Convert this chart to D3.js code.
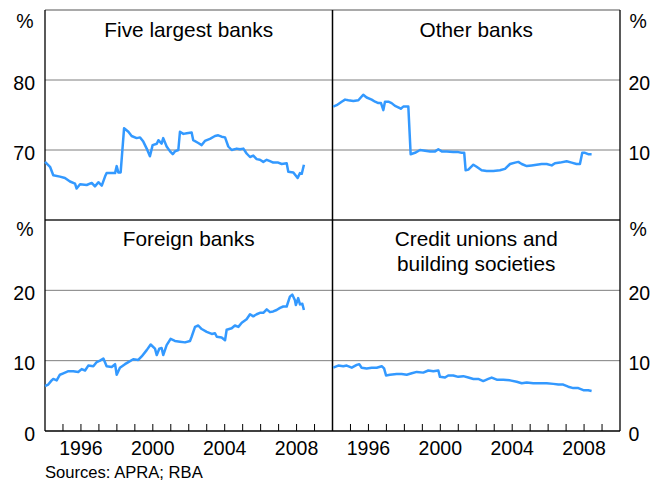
<!DOCTYPE html>
<html>
<head>
<meta charset="utf-8">
<script src="https://cdn.jsdelivr.net/npm/d3@7"></script>
<style>
html,body{margin:0;padding:0;background:#fff;}
svg{display:block;font-family:"Liberation Sans",Arial,sans-serif;}
</style>
</head>
<body>
<svg id="chart" width="653" height="484"></svg>
<script>
// ---- Data (decimal years, per cent share) ----
const bigFiveYears = [1994.00,1994.28,1994.46,1994.83,1995.11,1995.39,1995.67,1995.76,1995.95,1996.32,1996.60,1996.78,1996.97,1997.16,1997.34,1997.43,1997.90,1997.99,1998.08,1998.21,1998.40,1998.64,1998.82,1999.10,1999.29,1999.47,1999.66,1999.84,1999.99,2000.22,2000.31,2000.49,2000.58,2000.77,2000.96,2001.11,2001.23,2001.42,2001.51,2001.70,2001.89,2002.16,2002.25,2002.53,2002.72,2002.90,2003.18,2003.46,2003.64,2003.83,2004.02,2004.20,2004.39,2004.67,2004.85,2005.04,2005.22,2005.41,2005.59,2005.78,2005.96,2006.15,2006.34,2006.52,2006.70,2006.98,2007.17,2007.45,2007.54,2007.82,2008.06,2008.19,2008.29,2008.41];
const bigFiveValues = [68.3,67.6,66.4,66.2,66.0,65.5,65.2,64.5,65.1,65.0,65.3,64.8,65.4,64.9,66.2,66.7,66.7,67.7,66.8,66.8,73.1,72.6,72.0,71.7,71.8,71.2,70.2,69.1,70.7,70.9,71.4,70.9,71.7,70.5,69.8,69.4,69.8,70.0,72.6,72.3,72.4,72.5,71.4,71.0,70.7,71.3,71.6,72.0,72.1,71.9,71.8,70.5,70.0,70.2,70.1,70.2,69.5,69.0,69.2,68.7,68.6,68.3,68.6,68.4,68.2,68.2,68.0,68.1,66.9,66.8,66.0,66.7,66.6,67.9];

const otherYears = [1994.04,1994.23,1994.51,1994.70,1994.88,1995.16,1995.44,1995.71,1995.90,1996.18,1996.37,1996.55,1996.70,1996.83,1996.92,1997.11,1997.29,1997.48,1997.66,1997.80,1997.94,1998.22,1998.35,1998.59,1998.87,1999.15,1999.43,1999.71,1999.89,2000.08,2000.36,2000.72,2001.00,2001.19,2001.33,2001.41,2001.56,2001.84,2002.02,2002.30,2002.58,2002.95,2003.32,2003.60,2003.88,2004.16,2004.34,2004.53,2004.81,2005.08,2005.36,2005.64,2005.92,2006.20,2006.38,2006.66,2007.03,2007.31,2007.58,2007.77,2007.90,2008.05,2008.23,2008.42];
const otherValues = [16.2,16.4,16.9,17.2,17.1,17.0,17.1,17.9,17.5,17.2,16.9,16.7,16.7,15.7,16.9,16.9,16.7,16.3,16.1,15.9,16.2,16.2,9.4,9.6,10.0,9.9,9.8,9.8,10.1,9.8,9.8,9.7,9.7,9.6,9.6,7.1,7.2,7.9,7.6,7.1,7.0,7.0,7.1,7.3,8.0,8.2,8.3,8.0,7.7,7.8,7.9,8.0,8.0,7.8,8.1,8.2,8.4,8.2,8.0,8.0,9.6,9.6,9.4,9.4];

const foreignYears = [1994.00,1994.18,1994.37,1994.46,1994.65,1994.83,1995.02,1995.30,1995.57,1995.85,1996.04,1996.23,1996.41,1996.69,1996.88,1997.06,1997.25,1997.43,1997.71,1997.90,1997.99,1998.17,1998.45,1998.64,1998.91,1999.19,1999.38,1999.66,1999.88,2000.12,2000.22,2000.36,2000.49,2000.58,2000.77,2000.99,2001.23,2001.51,2001.79,2002.07,2002.16,2002.35,2002.53,2002.72,2003.00,2003.28,2003.46,2003.56,2003.83,2004.02,2004.11,2004.39,2004.57,2004.76,2004.95,2005.22,2005.41,2005.59,2005.78,2005.96,2006.15,2006.34,2006.52,2006.70,2006.89,2007.08,2007.26,2007.45,2007.63,2007.76,2007.91,2007.96,2008.09,2008.19,2008.32,2008.41];
const foreignValues = [6.4,6.6,7.2,7.4,7.2,8.0,8.2,8.5,8.5,8.4,8.8,8.6,9.3,9.2,9.8,10.0,10.3,9.2,9.1,9.5,8.0,9.0,9.5,9.8,10.2,10.1,10.6,11.5,12.3,11.7,10.8,11.7,11.8,10.8,12.2,13.1,12.8,12.7,12.6,12.8,13.4,14.8,15.0,14.5,14.1,13.8,13.9,13.4,13.3,12.9,14.4,14.6,15.0,14.8,15.4,15.9,16.6,16.3,16.6,16.8,16.8,17.3,16.9,17.0,17.2,17.5,17.7,17.7,19.1,19.4,18.6,17.9,18.9,18.0,18.1,17.2];

const creditYears = [1994.04,1994.32,1994.60,1994.79,1995.07,1995.35,1995.49,1995.62,1995.90,1996.18,1996.46,1996.74,1996.87,1996.98,1997.20,1997.57,1997.85,1998.13,1998.41,1998.69,1999.05,1999.33,1999.61,1999.89,1999.98,2000.26,2000.44,2000.72,2001.00,2001.28,2001.56,2001.84,2002.11,2002.39,2002.67,2002.86,2003.14,2003.50,2003.88,2004.25,2004.53,2004.81,2005.17,2005.54,2005.92,2006.29,2006.57,2006.84,2007.12,2007.40,2007.68,2007.96,2008.23,2008.42];
const creditValues = [9.0,9.3,9.2,9.3,9.0,9.4,9.5,9.0,8.9,9.0,9.0,9.2,8.9,7.9,8.0,8.1,8.1,8.0,8.2,8.4,8.3,8.6,8.5,8.6,7.7,7.6,7.9,7.9,7.7,7.8,7.6,7.4,7.4,7.1,7.4,7.6,7.3,7.3,7.2,7.0,6.8,6.9,6.8,6.8,6.8,6.7,6.6,6.6,6.3,6.1,6.1,5.8,5.8,5.7];

const panelTitles = [["Five largest banks"],["Other banks"],["Foreign banks"],["Credit unions and","building societies"]];
const topLeftTicks = [70, 80];
const topRightTicks = [10, 20];
const bottomTicks = [0, 10, 20];
const yearLabels = [1996, 2000, 2004, 2008];
const yearTicks = d3.range(1995, 2010);
const sourceText = "Sources: APRA; RBA";

// ---- Layout ----
const L = 45, R = 620, T = 10, M = 220, B = 431;
const MX = (L + R) / 2;
const lineColor = "#3399ff";
const svg = d3.select("#chart");

const xLeft = d3.scaleLinear().domain([1994, 2010]).range([L, MX]);
const xRight = d3.scaleLinear().domain([1994, 2010]).range([MX, R]);
const yTL = d3.scaleLinear().domain([60, 90]).range([M, T]);
const yTR = d3.scaleLinear().domain([0, 30]).range([M, T]);
const yBL = d3.scaleLinear().domain([0, 30]).range([B, M]);
const yBR = d3.scaleLinear().domain([0, 30]).range([B, M]);

// gridlines
function grid(ticks, y, x0, x1) {
  svg.append("g").selectAll("line").data(ticks).join("line")
    .attr("x1", x0).attr("x2", x1)
    .attr("y1", d => y(d)).attr("y2", d => y(d))
    .attr("stroke", "#7f7f7f").attr("stroke-width", 1);
}
grid(topLeftTicks, yTL, L, MX);
grid(topRightTicks, yTR, MX, R);
grid([10, 20], yBL, L, MX);
grid([10, 20], yBR, MX, R);

// x ticks (inside, pointing up)
[xLeft, xRight].forEach(x => {
  svg.append("g").selectAll("line").data(yearTicks).join("line")
    .attr("x1", d => x(d)).attr("x2", d => x(d))
    .attr("y1", B).attr("y2", B - 7)
    .attr("stroke", "#000").attr("stroke-width", 1);
});

// frame
svg.append("line").attr("x1", L).attr("x2", R).attr("y1", T).attr("y2", T).attr("stroke", "#555").attr("stroke-width", 1.2);
svg.append("line").attr("x1", L).attr("x2", R).attr("y1", M).attr("y2", M).attr("stroke", "#222").attr("stroke-width", 1.5);
svg.append("line").attr("x1", L).attr("x2", R).attr("y1", B).attr("y2", B).attr("stroke", "#000").attr("stroke-width", 1.3);
svg.append("line").attr("x1", L).attr("x2", L).attr("y1", T).attr("y2", B).attr("stroke", "#000").attr("stroke-width", 1.3);
svg.append("line").attr("x1", R).attr("x2", R).attr("y1", T).attr("y2", B).attr("stroke", "#000").attr("stroke-width", 1.3);
svg.append("line").attr("x1", MX).attr("x2", MX).attr("y1", T).attr("y2", B).attr("stroke", "#000").attr("stroke-width", 1.5);

// series
function drawLine(years, values, x, y) {
  const pts = years.map((t, i) => [t, values[i]]);
  const line = d3.line().x(d => x(d[0])).y(d => y(d[1]));
  svg.append("path").datum(pts).attr("d", line)
    .attr("fill", "none").attr("stroke", lineColor)
    .attr("stroke-width", 2.5).attr("stroke-linejoin", "round");
}
drawLine(bigFiveYears, bigFiveValues, xLeft, yTL);
drawLine(otherYears, otherValues, xRight, yTR);
drawLine(foreignYears, foreignValues, xLeft, yBL);
drawLine(creditYears, creditValues, xRight, yBR);

// y labels
const fs = 19.5;
function yLabels(ticks, y, x, anchor) {
  svg.append("g").selectAll("text").data(ticks).join("text")
    .attr("x", x).attr("y", d => y(d) + 9.5)
    .attr("text-anchor", anchor).attr("font-size", fs).attr("fill", "#000")
    .text(d => d);
}
yLabels(topLeftTicks, yTL, 35, "end");
yLabels(topRightTicks, yTR, 628.5, "start");
yLabels(bottomTicks, yBL, 35, "end");
yLabels(bottomTicks, yBR, 628.5, "start");

function pct(x, yb, anchor) {
  svg.append("text").attr("x", x).attr("y", yb).attr("text-anchor", anchor)
    .attr("font-size", fs).attr("fill", "#000").text("%");
}
pct(33.5, 28, "end"); pct(33.5, 236, "end");
pct(629.5, 28, "start"); pct(629.5, 236, "start");

// year labels
[xLeft, xRight].forEach(x => {
  svg.append("g").selectAll("text").data(yearLabels).join("text")
    .attr("x", d => x(d)).attr("y", 455)
    .attr("text-anchor", "middle").attr("font-size", fs).attr("fill", "#000")
    .text(d => d);
});

// titles
const centers = [[(L + MX) / 2, 37], [(MX + R) / 2, 37], [(L + MX) / 2, 245.5], [(MX + R) / 2, 245.5]];
panelTitles.forEach((lines, i) => {
  lines.forEach((s, j) => {
    svg.append("text").attr("x", centers[i][0]).attr("y", centers[i][1] + j * 25)
      .attr("text-anchor", "middle").attr("font-size", 20.8).attr("fill", "#000").text(s);
  });
});

// source
svg.append("text").attr("x", 45).attr("y", 478).attr("font-size", 16.6).attr("fill", "#000").text(sourceText);
</script>
</body>
</html>
